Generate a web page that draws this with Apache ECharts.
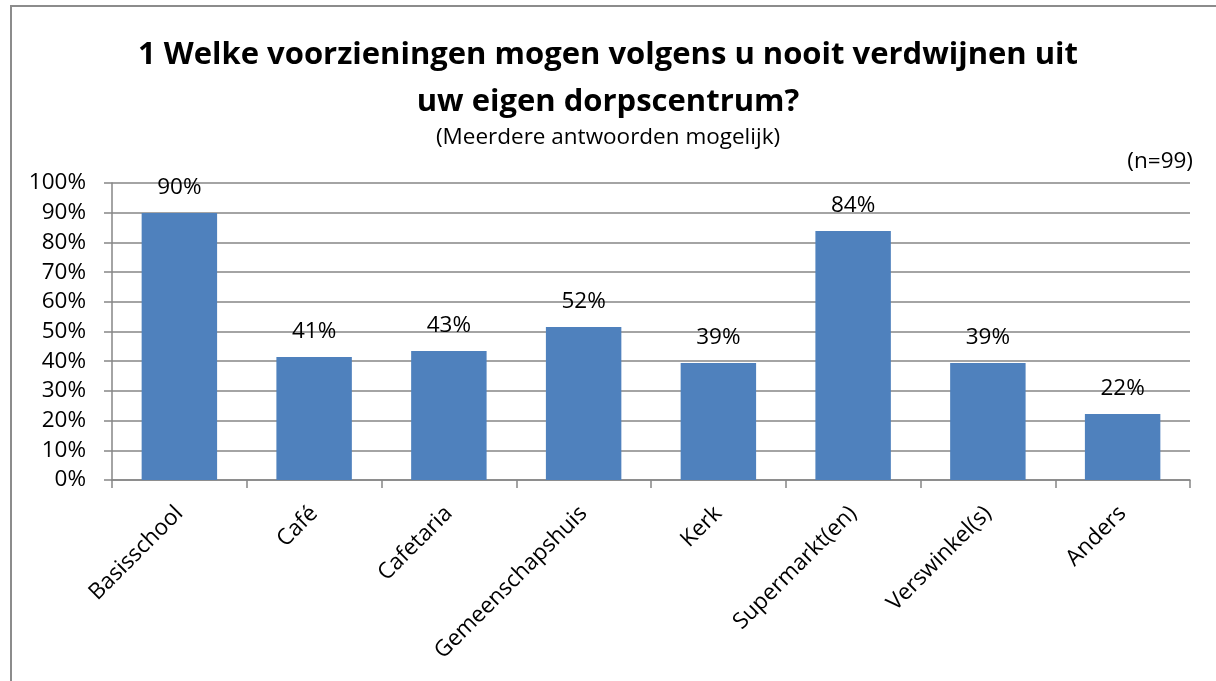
<!DOCTYPE html>
<html>
<head>
<meta charset="utf-8">
<script src="https://cdn.jsdelivr.net/npm/echarts@6/dist/echarts.min.js"></script>
<style>
html,body{margin:0;padding:0;background:#fff;overflow:hidden;}
#frame{position:absolute;left:10px;top:5px;width:1300px;height:800px;border-left:2px solid #8c8c8c;border-top:2px solid #8c8c8c;box-sizing:border-box;}
#chart{position:absolute;left:0;top:0;width:1216px;height:681px;}
</style>
</head>
<body>
<div id="frame"></div>
<div id="chart"></div>
<script>
const categories = ['Basisschool','Café','Cafetaria','Gemeenschapshuis','Kerk','Supermarkt(en)','Verswinkel(s)','Anders'];
const values = [89.9, 41.4, 43.4, 51.5, 39.4, 83.8, 39.4, 22.2];
const yTicks = {min: 0, max: 100, interval: 10};
const titleLines = ['1 Welke voorzieningen mogen volgens u nooit verdwijnen uit', 'uw eigen dorpscentrum?'];
const subtitle = '(Meerdere antwoorden mogelijk)';
const nText = '(n=99)';

const FONT = 'Open Sans';
const FS = 22.5;
const chart = echarts.init(document.getElementById('chart'), null, {renderer: 'canvas'});
chart.setOption({
  backgroundColor: 'transparent',
  animation: false,
  title: [
    {text: titleLines.join('\n'), left: 'center', top: 27, textStyle: {fontFamily: FONT, fontWeight: 'bold', fontSize: 31, lineHeight: 47, color: '#000'}},
    {text: subtitle, left: 'center', top: 121, textStyle: {fontFamily: FONT, fontWeight: 'normal', fontSize: FS, color: '#000'}},
    {text: nText, right: 18, top: 145, textStyle: {fontFamily: FONT, fontWeight: 'normal', fontSize: FS, color: '#000'}}
  ],
  grid: {left: 112, right: 26, top: 183, bottom: 201, containLabel: false},
  xAxis: {
    type: 'category', data: categories, boundaryGap: true,
    axisLine: {lineStyle: {color: '#868686', width: 1.5}},
    axisTick: {show: true, length: 8, inside: false, alignWithLabel: false, lineStyle: {color: '#868686', width: 1.5}},
    axisLabel: {rotate: 45, interval: 0, margin: 30, fontFamily: FONT, fontSize: FS, color: '#000'}
  },
  yAxis: {
    type: 'value', min: yTicks.min, max: yTicks.max, interval: yTicks.interval,
    axisLine: {show: true, lineStyle: {color: '#868686', width: 1.5}},
    axisTick: {show: true, length: 8, inside: false, lineStyle: {color: '#868686', width: 1.5}},
    splitLine: {show: true, lineStyle: {color: '#868686', width: 1.5}},
    axisLabel: {margin: 26, fontFamily: FONT, fontSize: FS, color: '#000', formatter: v => v + '%'}
  },
  series: [{
    type: 'bar', data: values, barWidth: '56%',
    itemStyle: {color: '#4F81BD'},
    label: {show: true, position: 'top', distance: 14, fontFamily: FONT, fontSize: FS, color: '#000', formatter: p => Math.round(p.value) + '%'}
  }]
});
</script>
</body>
</html>
